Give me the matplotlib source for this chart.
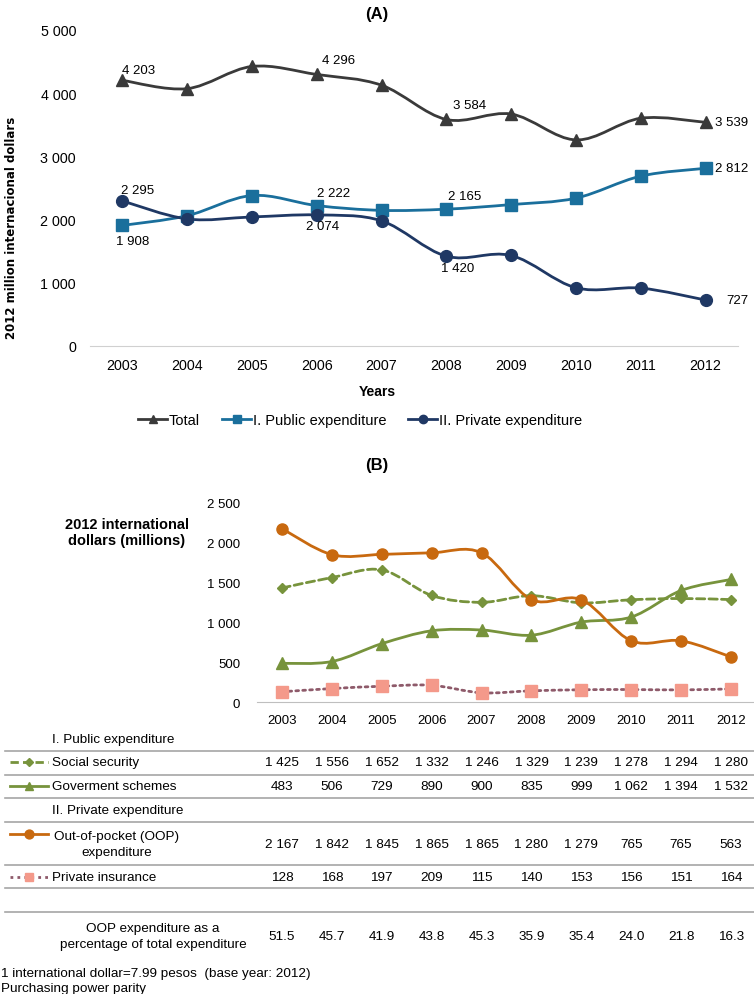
import matplotlib
matplotlib.use("Agg")
import matplotlib.pyplot as plt
import matplotlib.transforms as mtransforms
from matplotlib.lines import Line2D
from matplotlib.path import Path
from matplotlib.patches import PathPatch

plt.rcParams["font.family"] = ["Liberation Sans", "DejaVu Sans"]

# ---- data -------------------------------------------------------------
years = [2003, 2004, 2005, 2006, 2007, 2008, 2009, 2010, 2011, 2012]

# panel B / table (2012 international dollars, millions)
social_security = [1425, 1556, 1652, 1332, 1246, 1329, 1239, 1278, 1294, 1280]
gov_schemes = [483, 506, 729, 890, 900, 835, 999, 1062, 1394, 1532]
oop = [2167, 1842, 1845, 1865, 1865, 1280, 1279, 765, 765, 563]
private_insurance = [128, 168, 197, 209, 115, 140, 153, 156, 151, 164]
oop_pct = [51.5, 45.7, 41.9, 43.8, 45.3, 35.9, 35.4, 24.0, 21.8, 16.3]

# panel A
public_total = [1908, 2062, 2381, 2222, 2146, 2165, 2238, 2340, 2688, 2812]
private_total = [2295, 2010, 2042, 2074, 1980, 1420, 1432, 921, 916, 727]
grand_total = [4203, 4072, 4423, 4296, 4126, 3584, 3670, 3261, 3604, 3539]

labels_a = ["Total", "I. Public expenditure", "II. Private expenditure"]
labels_b = ["Social security", "Goverment schemes",
            "Out-of-pocket (OOP)\nexpenditure", "Private insurance"]

C_TOTAL = "#3a3a3a"
C_PUBLIC = "#1a6f9c"
C_PRIVATE = "#1f3864"
C_GREEN = "#77933c"
C_ORANGE = "#c8690f"
C_INS_LINE = "#8e5a6a"
C_INS_MARK = "#f4998a"
C_GRID = "#a6a6a6"

W, H = 754, 995


def fx(px):
    return px / W


def fy(py):
    return 1 - py / H


def fmt(v):
    return f"{v:,}".replace(",", " ")


def smooth_path(xs, ys):
    """Bezier path through the points (Excel style smoothed line)."""
    pts = list(zip(xs, ys))
    n = len(pts)
    verts = [pts[0]]
    codes = [Path.MOVETO]
    for i in range(n - 1):
        p0 = pts[i - 1] if i > 0 else pts[i]
        p1 = pts[i]
        p2 = pts[i + 1]
        p3 = pts[i + 2] if i + 2 < n else pts[i + 1]
        c1 = (p1[0] + (p2[0] - p0[0]) / 6, p1[1] + (p2[1] - p0[1]) / 6)
        c2 = (p2[0] - (p3[0] - p1[0]) / 6, p2[1] - (p3[1] - p1[1]) / 6)
        verts += [c1, c2, p2]
        codes += [Path.CURVE4] * 3
    return Path(verts, codes)


def smooth_line(ax, xs, ys, color, lw, ls="-", zorder=2):
    patch = PathPatch(smooth_path(xs, ys), fill=False, edgecolor=color,
                      lw=lw, linestyle=ls, zorder=zorder, capstyle="round")
    ax.add_patch(patch)


fig = plt.figure(figsize=(W / 100, H / 100), dpi=100)

# ---- panel A ----------------------------------------------------------
axA = fig.add_axes([fx(90), fy(347), fx(738) - fx(90), fy(31) - fy(347)])
series_a = [
    (grand_total, C_TOTAL, "^", 8),
    (public_total, C_PUBLIC, "s", 8),
    (private_total, C_PRIVATE, "o", 8.5),
]
for vals, col, mk, ms in series_a:
    smooth_line(axA, years, vals, col, 2.0)
    axA.plot(years, vals, ls="none", marker=mk, ms=ms, color=col, zorder=3)

axA.set_xlim(2002.5, 2012.5)
axA.set_ylim(0, 5000)
axA.set_yticks(range(0, 5001, 1000))
axA.set_yticklabels([fmt(v) for v in range(0, 5001, 1000)])
axA.set_xticks(years)
axA.tick_params(length=0, labelsize=10.3)
axA.tick_params(axis="y", pad=10)
axA.tick_params(axis="x", pad=9)
for s in ["top", "right", "left"]:
    axA.spines[s].set_visible(False)
axA.spines["bottom"].set_color("#d0d0d0")
fig.text(fx(377), fy(14), "(A)", ha="center", va="center",
         fontsize=12, fontweight="bold")

# point labels: (series, index, dx, dy, ha) offsets in pixels
label_pos = [
    (0, 0, 0, 10, "left"), (0, 3, 5, 14, "left"), (0, 5, 7, 14, "left"),
    (0, 9, 9, 0, "left"),
    (1, 0, 10, -16, "center"), (1, 3, 0, 13, "left"), (1, 5, 2, 13, "left"),
    (1, 9, 9, 0, "left"),
    (2, 0, 15, 11, "center"), (2, 3, 6, -11, "center"),
    (2, 5, 11, -12, "center"), (2, 9, 21, 0, "left"),
]
for si, i, dx, dy, ha in label_pos:
    v = series_a[si][0][i]
    axA.annotate(fmt(v), (years[i], v), xytext=(dx, dy),
                 textcoords="offset pixels", ha=ha, va="center",
                 fontsize=9.5, zorder=4)

fig.text(fx(12), fy(228), "2012 million internacional dollars",
         rotation=90, ha="center", va="center", fontsize=8.5,
         fontweight="bold", family="DejaVu Sans")
fig.text(fx(377), fy(392), "Years", ha="center", va="center",
         fontsize=10, fontweight="bold")

handles = [Line2D([], [], color=c, marker=m, ms=6, lw=2)
           for _, c, m, _ in series_a]
fig.legend(handles, labels_a, loc="center", bbox_to_anchor=(fx(360), fy(421)),
           ncol=3, frameon=False, fontsize=10.5, handlelength=2.0,
           handletextpad=0.1, columnspacing=1.5)

# ---- panel B ----------------------------------------------------------
axB = fig.add_axes([fx(257), fy(703), fx(756) - fx(257), fy(503) - fy(703)])
series_b = [
    (social_security, C_GREEN, "D", 5.5, (0, (3, 1.5)), C_GREEN),
    (gov_schemes, C_GREEN, "^", 8, "-", C_GREEN),
    (oop, C_ORANGE, "o", 8, "-", C_ORANGE),
    (private_insurance, C_INS_LINE, "s", 8, (0, (1, 1.5)), C_INS_MARK),
]
for vals, col, mk, ms, ls, mcol in series_b:
    smooth_line(axB, years, vals, col, 2.0, ls=ls)
    axB.plot(years, vals, ls="none", marker=mk, ms=ms, color=mcol, zorder=3)

axB.set_xlim(2002.5, 2012.5)
axB.set_ylim(0, 2500)
axB.set_yticks(range(0, 2501, 500))
axB.set_yticklabels([fmt(v) for v in range(0, 2501, 500)])
axB.set_xticks(years)
axB.tick_params(length=0, labelsize=9.5)
axB.tick_params(axis="y", pad=12)
axB.tick_params(axis="x", pad=9)
for s in ["top", "right", "left"]:
    axB.spines[s].set_visible(False)
axB.spines["bottom"].set_color("#bfbfbf")

fig.text(fx(377), fy(466), "(B)", ha="center", va="center",
         fontsize=12, fontweight="bold")
fig.text(fx(127), fy(533), "2012 international\ndollars (millions)",
         ha="center", va="center", fontsize=10.5, fontweight="bold",
         linespacing=1.25)

# ---- table under panel B ----------------------------------------------
col_tr = mtransforms.blended_transform_factory(axB.transData, fig.transFigure)
TS = 9.7

for y in [752, 776, 799, 823, 866, 889, 913]:
    fig.add_artist(Line2D([fx(5), fx(754)], [fy(y), fy(y)], color=C_GRID,
                          lw=1.2, transform=fig.transFigure))

fig.text(fx(52), fy(740), "I. Public expenditure", ha="left", va="center",
         fontsize=TS)
fig.text(fx(52), fy(811), "II. Private expenditure", ha="left", va="center",
         fontsize=TS)

row_y = [763, 787, 845, 878]
for (vals, col, mk, ms, ls, mcol), lab, y in zip(series_b, labels_b, row_y):
    sym_y = y - 10 if "\n" in lab else y
    fig.add_artist(Line2D([fx(10), fx(48)], [fy(sym_y), fy(sym_y)], color=col,
                          lw=2, ls=ls, transform=fig.transFigure))
    fig.add_artist(Line2D([fx(29)], [fy(sym_y)], color=mcol, marker=mk,
                          ms=ms * 0.8, ls="none", transform=fig.transFigure))
    if "\n" in lab:
        fig.text(fx(117), fy(y), lab, ha="center", va="center",
                 fontsize=TS, linespacing=1.45)
    else:
        fig.text(fx(52), fy(y), lab, ha="left", va="center", fontsize=TS)
    for yr, v in zip(years, vals):
        fig.text(yr, fy(y), fmt(v), ha="center", va="center", fontsize=TS,
                 transform=col_tr)

fig.text(fx(153), fy(937), "OOP expenditure as a\npercentage of total expenditure",
         ha="center", va="center", fontsize=TS, linespacing=1.45)
for yr, v in zip(years, oop_pct):
    fig.text(yr, fy(937), f"{v:.1f}", ha="center", va="center", fontsize=TS,
             transform=col_tr)

fig.text(fx(1), fy(974), "1 international dollar=7.99 pesos  (base year: 2012)",
         ha="left", va="center", fontsize=TS)
fig.text(fx(1), fy(989), "Purchasing power parity", ha="left", va="center",
         fontsize=TS)

fig.savefig("out.png", dpi=100)
